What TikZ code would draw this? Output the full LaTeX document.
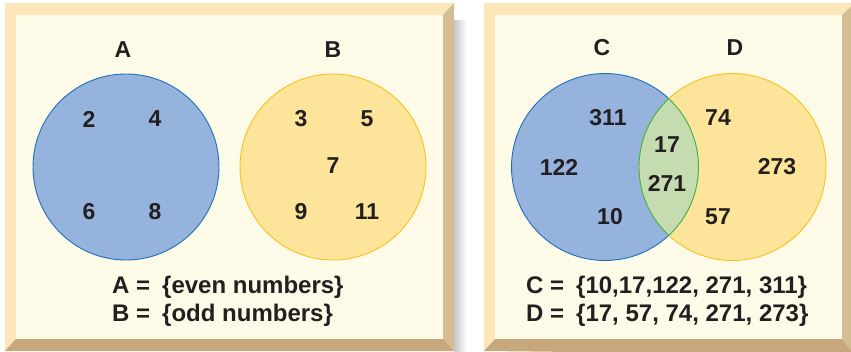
\documentclass[tikz,border=0pt]{standalone}
\usepackage{fontspec}
\setmainfont{Liberation Sans}
\usepackage{xcolor}
\usepackage{tikz}

\definecolor{paper}{HTML}{FEFAE8}
\definecolor{bevlight}{HTML}{FDE6B8}
\definecolor{bevright}{HTML}{D5BD93}
\definecolor{bevdark}{HTML}{C7A77C}
\definecolor{bluefill}{HTML}{95B3DD}
\definecolor{blueline}{HTML}{1C72B8}
\definecolor{yelfill}{HTML}{FDE49B}
\definecolor{yelline}{HTML}{F6C21B}
\definecolor{grnfill}{HTML}{C5DCB1}
\definecolor{grnline}{HTML}{3DAE4A}
\definecolor{ink}{HTML}{231F20}

\begin{document}
\begin{tikzpicture}[
  x=1pt, y=-1pt,
  every node/.style={font=\fontsize{23}{25}\selectfont\bfseries, text=ink, inner sep=0pt},
  num/.style={anchor=center},
  setname/.style={anchor=center},
  eqn/.style={anchor=west, font=\fontsize{24}{26}\selectfont\bfseries},
  setA/.style={draw=blueline, fill=bluefill, line width=0.9pt},
  setB/.style={draw=yelline, fill=yelfill, line width=0.9pt},
]
\useasboundingbox (0,0) rectangle (851,351);
\fill[white] (0,0) rectangle (851,351);

% shadow of the left panel
\shade[left color=black!22, right color=white] (454,20) rectangle (467,351);

% left panel with bevel
\fill[bevlight] (5,3) -- (454,3) -- (443,15) -- (16,15) -- cycle;
\fill[bevlight] (5,3) -- (16,15) -- (16,339) -- (5,351) -- cycle;
\fill[bevright] (454,3) -- (454,351) -- (443,339) -- (443,15) -- cycle;
\fill[bevdark] (5,351) -- (16,339) -- (443,339) -- (454,351) -- cycle;
\fill[paper] (16,15) rectangle (443,339);

% right panel with bevel
\fill[bevlight] (484,3) -- (855,3) -- (842,15) -- (495,15) -- cycle;
\fill[bevlight] (484,3) -- (495,15) -- (495,339) -- (484,351) -- cycle;
\fill[bevright] (855,3) -- (855,355) -- (842,339) -- (842,15) -- cycle;
\fill[bevdark] (484,351) -- (495,339) -- (842,339) -- (855,355) -- cycle;
\fill[paper] (495,15) rectangle (842,339);

% A and B
\draw[setA] (126,167) circle[radius=93];
\draw[setB] (333,167) circle[radius=93];
\node[setname] (labA) at (123,50) {A};
\node[setname] (labB) at (333,50) {B};
\node[num] (a2) at (89,119)  {2};
\node[num] (a4) at (155,119) {4};
\node[num] (a6) at (89,212)  {6};
\node[num] (a8) at (155,212) {8};
\node[num] (b3)  at (301,119) {3};
\node[num] (b5)  at (367,119) {5};
\node[num] (b7)  at (333,166) {7};
\node[num] (b9)  at (301,212) {9};
\node[num] (b11) at (367,212) {11};
\node[eqn] (eqA) at (112,287) {A =\enspace\{even numbers\}};
\node[eqn] (eqB) at (112,315) {B =\enspace\{odd numbers\}};

% C and D
\draw[setA] (605,167) circle[radius=93.5];
\draw[setB] (732.5,167) circle[radius=93.5];
\begin{scope}
  \clip (605,167) circle[radius=93.5];
  \fill[grnfill] (732.5,167) circle[radius=93.5];
\end{scope}
\begin{scope}
  \clip (605,167) circle[radius=93.5];
  \draw[grnline, line width=0.9pt] (732.5,167) circle[radius=93.5];
\end{scope}
\begin{scope}
  \clip (732.5,167) circle[radius=93.5];
  \draw[grnline, line width=0.9pt] (605,167) circle[radius=93.5];
\end{scope}
\node[setname] (labC) at (602,48) {C};
\node[setname] (labD) at (735,48) {D};
\node[num] (c311) at (608,118) {311};
\node[num] (c122) at (559,167) {122};
\node[num] (c10)  at (610,217) {10};
\node[num] (cd17)  at (667,145) {17};
\node[num] (cd271) at (667,183) {271};
\node[num] (d74)  at (718,118) {74};
\node[num] (d273) at (777,167) {273};
\node[num] (d57)  at (718,217) {57};
\node[eqn] (eqC) at (526,287) {C =\enspace\{10,17,122, 271, 311\}};
\node[eqn] (eqD) at (526,315) {D =\enspace\{17, 57, 74, 271, 273\}};
\end{tikzpicture}
\end{document}
